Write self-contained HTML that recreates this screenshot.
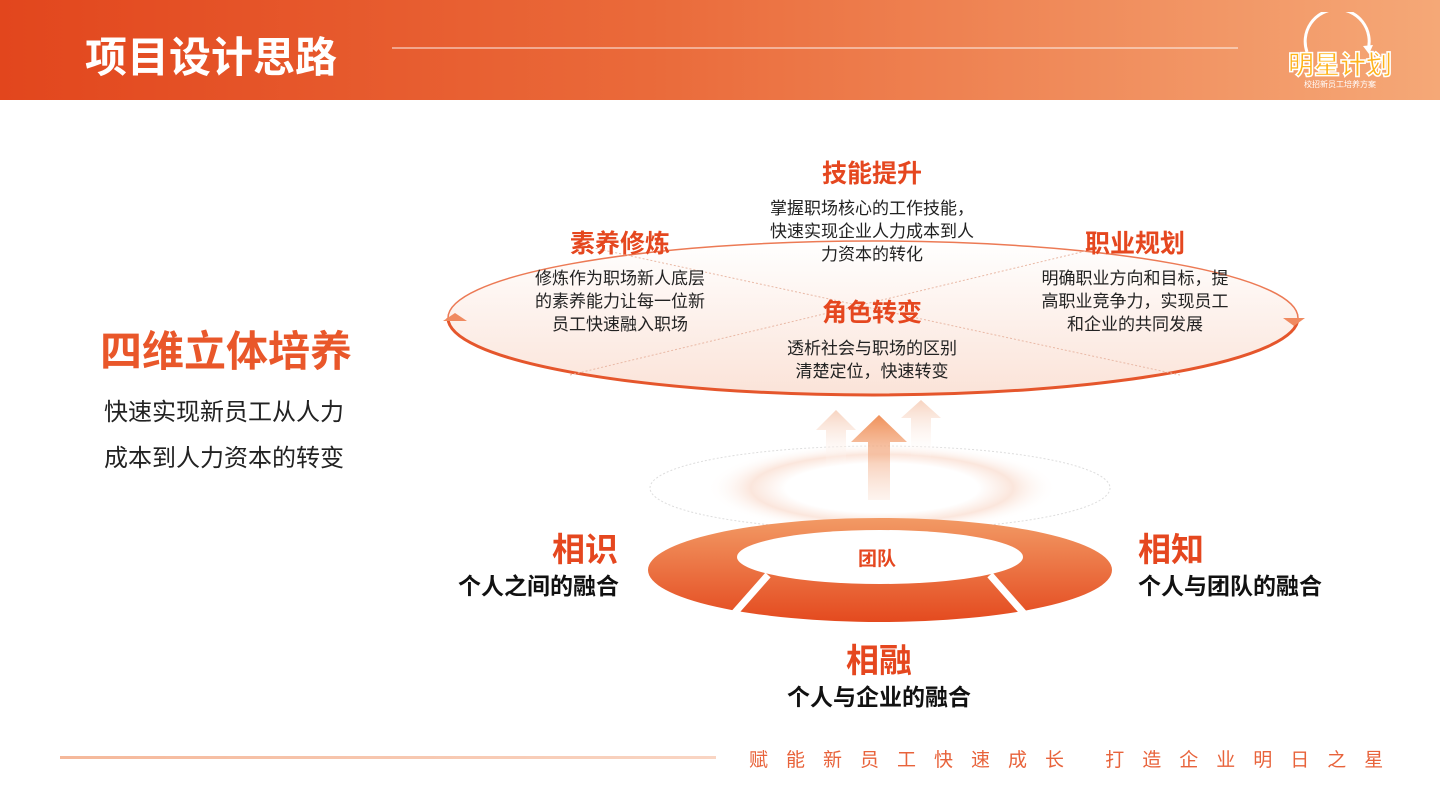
<!DOCTYPE html>
<html><head><meta charset="utf-8"><style>
body{margin:0;width:1440px;height:810px;overflow:hidden;background:#fff;font-family:"Liberation Sans","Noto Sans CJK SC",sans-serif;position:relative}
.hd{position:absolute;left:0;top:0;width:1440px;height:100px;background:linear-gradient(90deg,#e2461d 0%,#ea6a3a 45%,#f5a877 100%)}
.t{position:absolute;white-space:nowrap}
.b{font-weight:bold}
.o{color:#e5471f}
.c{text-align:center}
</style></head><body>
<div class="hd"></div>
<div class="t b" style="left:85px;top:24px;font-size:42px;color:#fff">项目设计思路</div>
<div style="position:absolute;left:392px;top:47px;width:846px;height:2px;background:rgba(255,255,255,.45)"></div>
<svg style="position:absolute;left:1270px;top:12px" width="140" height="80">
<path d="M37 40 A32 32 0 1 1 98 38" fill="none" stroke="#fff" stroke-width="3"/>
<path d="M93 34 L99 42 L103 33 Z" fill="#fff"/>
<text x="70" y="62" text-anchor="middle" font-size="26" font-weight="bold" fill="#ffb31a" stroke="#fff" stroke-width="1.5" font-family="Noto Sans CJK SC,sans-serif">明星计划</text>
<text x="70" y="75" text-anchor="middle" font-size="8" fill="#fff" font-family="Noto Sans CJK SC,sans-serif">校招新员工培养方案</text>
</svg>

<svg style="position:absolute;left:0;top:0" width="1440" height="810">
<defs>
<linearGradient id="eg" x1="0" y1="0" x2="0" y2="1"><stop offset="0" stop-color="#fff"/><stop offset="1" stop-color="#fbe3d8"/></linearGradient>
<linearGradient id="rg" x1="0" y1="0" x2="0" y2="1"><stop offset="0" stop-color="#f29a65"/><stop offset="1" stop-color="#e44a1f"/></linearGradient>
<linearGradient id="ag" x1="0" y1="0" x2="0" y2="1"><stop offset="0" stop-color="#f0915a"/><stop offset="1" stop-color="#f6c7ae" stop-opacity=".2"/></linearGradient>
<linearGradient id="ag2" x1="0" y1="0" x2="0" y2="1"><stop offset="0" stop-color="#f7d3c0"/><stop offset="1" stop-color="#fff" stop-opacity="0"/></linearGradient>
<radialGradient id="gl"><stop offset=".55" stop-color="#fff"/><stop offset=".75" stop-color="#fbe6dc"/><stop offset="1" stop-color="#fff" stop-opacity="0"/></radialGradient>
</defs>
<ellipse cx="873" cy="318" rx="425" ry="77" fill="url(#eg)" stroke="#ec7a55" stroke-width="1.5"/>
<path d="M448 318 A425 77 0 0 0 1298 318" fill="none" stroke="#e5562c" stroke-width="3"/>
<line x1="570" y1="375" x2="1090" y2="250" stroke="#e9b9a6" stroke-dasharray="2 2"/>
<line x1="580" y1="245" x2="1180" y2="375" stroke="#e9b9a6" stroke-dasharray="2 2"/>
<path d="M443 321 L455 313 L467 321 Z" fill="#f08a60"/>
<path d="M1283 318 L1305 318 L1294 326 Z" fill="#f08a60"/>
<ellipse cx="880" cy="488" rx="230" ry="42" fill="none" stroke="#ddd" stroke-dasharray="2 2"/>
<ellipse cx="882" cy="488" rx="175" ry="45" fill="url(#gl)"/>
<path d="M816 430 L836 410 L856 430 L846 430 L846 470 L826 470 L826 430 Z" fill="url(#ag2)"/>
<path d="M901 418 L921 400 L941 418 L931 418 L931 460 L911 460 L911 418 Z" fill="url(#ag2)"/>
<path d="M851 442 L879 415 L907 442 L890 442 L890 500 L868 500 L868 442 Z" fill="url(#ag)"/>
<ellipse cx="880" cy="570" rx="232" ry="52" fill="url(#rg)"/>
<ellipse cx="880" cy="557" rx="143" ry="27" fill="#fff"/>
<line x1="768" y1="575" x2="731" y2="617" stroke="#fff" stroke-width="7"/>
<line x1="990" y1="575" x2="1027" y2="617" stroke="#fff" stroke-width="7"/>
</svg>

<div class="t b o c" style="left:722px;top:154px;width:300px;font-size:25px">技能提升</div>
<div class="t c" style="left:722px;top:197px;width:300px;font-size:17px;line-height:23px;color:#222">掌握职场核心的工作技能，<br>快速实现企业人力成本到人<br>力资本的转化</div>
<div class="t b o c" style="left:470px;top:224px;width:300px;font-size:25px">素养修炼</div>
<div class="t c" style="left:470px;top:267px;width:300px;font-size:17px;line-height:23px;color:#222">修炼作为职场新人底层<br>的素养能力让每一位新<br>员工快速融入职场</div>
<div class="t b o c" style="left:985px;top:224px;width:300px;font-size:25px">职业规划</div>
<div class="t c" style="left:985px;top:267px;width:300px;font-size:17px;line-height:23px;color:#222">明确职业方向和目标，提<br>高职业竞争力，实现员工<br>和企业的共同发展</div>
<div class="t b o c" style="left:722px;top:293px;width:300px;font-size:25px">角色转变</div>
<div class="t c" style="left:722px;top:337px;width:300px;font-size:17px;line-height:23px;color:#222">透析社会与职场的区别<br>清楚定位，快速转变</div>

<div class="t b" style="left:100px;top:318px;font-size:42px;color:#e9572a">四维立体培养</div>
<div class="t" style="left:104px;top:390px;font-size:24px;line-height:46px;color:#222">快速实现新员工从人力<br>成本到人力资本的转变</div>

<div class="t b o" style="left:858px;top:544px;font-size:19px">团队</div>
<div class="t b o" style="left:552px;top:523px;font-size:33px">相识</div>
<div class="t b" style="left:458px;top:567px;font-size:23px;color:#111">个人之间的融合</div>
<div class="t b o" style="left:1138px;top:523px;font-size:33px">相知</div>
<div class="t b" style="left:1138px;top:567px;font-size:23px;color:#111">个人与团队的融合</div>
<div class="t b o" style="left:846px;top:634px;font-size:33px">相融</div>
<div class="t b" style="left:787px;top:678px;font-size:23px;color:#111">个人与企业的融合</div>

<div style="position:absolute;left:60px;top:756px;width:656px;height:3px;background:linear-gradient(90deg,#f5b89a,#f9d5c3)"></div>
<div class="t" style="left:749px;top:745px;font-size:19px;letter-spacing:18px;color:#e8633b">赋能新员工快速成长 打造企业明日之星</div>
</body></html>
